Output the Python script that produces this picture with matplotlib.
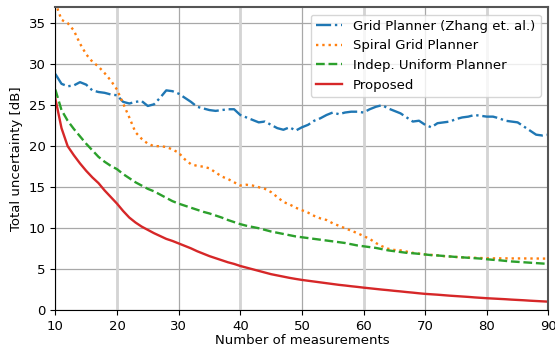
import matplotlib
matplotlib.use("Agg")
import matplotlib.pyplot as plt
import numpy as np

measurements = np.arange(10, 91)

grid_planner = [
    28.8, 27.6, 27.3, 27.4, 27.8, 27.5, 26.8, 26.6, 26.5, 26.3,
    26.2, 25.4, 25.2, 25.4, 25.5, 24.9, 25.1, 25.9, 26.8, 26.7,
    26.4, 25.9, 25.4, 24.8, 24.6, 24.4, 24.3, 24.4, 24.5, 24.5,
    23.8, 23.5, 23.2, 22.9, 23.0, 22.6, 22.2, 22.0, 22.3, 21.9,
    22.3, 22.6, 23.1, 23.4, 23.8, 24.1, 23.9, 24.1, 24.2, 24.2,
    24.1, 24.5, 24.8, 25.0, 24.6, 24.3, 24.0, 23.5, 23.0, 23.1,
    22.6, 22.3, 22.8, 22.9, 23.0, 23.3, 23.5, 23.6, 23.8, 23.7,
    23.6, 23.6, 23.4, 23.1, 23.0, 22.9, 22.4, 21.9, 21.4, 21.3,
    21.4,
]

spiral_grid = [
    37.5, 35.4, 35.0, 34.1, 32.5, 31.2, 30.3, 29.7, 28.9, 28.0,
    26.9, 25.2, 23.5, 21.7, 20.9, 20.3, 20.0, 20.0, 19.9, 19.6,
    19.2, 18.4, 17.8, 17.6, 17.5, 17.3, 16.8, 16.3, 16.0, 15.6,
    15.2, 15.3, 15.2, 15.0, 14.8, 14.4, 13.8, 13.2, 12.9, 12.5,
    12.2, 11.9, 11.5, 11.2, 11.0, 10.6, 10.3, 10.0, 9.7, 9.4,
    9.05, 8.7, 8.2, 7.8, 7.5, 7.35, 7.3, 7.15, 7.0, 6.9,
    6.8, 6.75, 6.7, 6.6, 6.55, 6.5, 6.45, 6.42, 6.4, 6.37,
    6.34, 6.33, 6.33, 6.33, 6.32, 6.32, 6.32, 6.31, 6.31, 6.3,
    6.3,
]

indep_uniform = [
    26.9, 24.4, 23.1, 22.1, 21.2, 20.3, 19.5, 18.7, 18.1, 17.6,
    17.2, 16.6, 16.1, 15.6, 15.2, 14.8, 14.5, 14.1, 13.7, 13.3,
    13.0, 12.75, 12.5, 12.25, 12.0, 11.8, 11.55, 11.3, 11.0, 10.75,
    10.5, 10.3, 10.15, 10.0, 9.8, 9.6, 9.45, 9.3, 9.15, 9.0,
    8.9, 8.8, 8.7, 8.6, 8.5, 8.4, 8.3, 8.2, 8.05, 7.9,
    7.8, 7.7, 7.6, 7.45, 7.3, 7.2, 7.1, 7.0, 6.95, 6.88,
    6.8, 6.72, 6.68, 6.62, 6.56, 6.5, 6.45, 6.4, 6.35, 6.3,
    6.22, 6.15, 6.1, 6.02, 5.95, 5.9, 5.85, 5.8, 5.75, 5.7,
    5.65,
]

proposed = [
    25.8, 22.2, 20.0, 18.9, 17.9, 17.0, 16.2, 15.5, 14.6, 13.8,
    13.0, 12.1, 11.3, 10.7, 10.2, 9.8, 9.4, 9.05, 8.7, 8.45,
    8.15, 7.85, 7.55, 7.2, 6.9, 6.6, 6.35, 6.1, 5.85, 5.65,
    5.4, 5.2, 5.0, 4.8, 4.6, 4.4, 4.25, 4.1, 3.95, 3.82,
    3.7, 3.6, 3.5, 3.4, 3.3, 3.2, 3.1, 3.02, 2.93, 2.85,
    2.76, 2.68, 2.6, 2.52, 2.45, 2.37, 2.3, 2.22, 2.15, 2.07,
    2.0, 1.95, 1.9, 1.84, 1.78, 1.73, 1.68, 1.63, 1.57, 1.52,
    1.47, 1.43, 1.39, 1.35, 1.3, 1.26, 1.22, 1.17, 1.13, 1.09,
    1.05,
]

labels = ["Grid Planner (Zhang et. al.)", "Spiral Grid Planner",
          "Indep. Uniform Planner", "Proposed"]

fig = plt.figure(figsize=(5.55, 3.51), dpi=100)
ax = fig.add_axes([0.0997, 0.116, 0.8885, 0.865])

# grid: darker thin lines everywhere, lighter wide ones on every second x tick
ax.grid(True, color="#a8a8a8", linewidth=0.9)
for xv in (20, 40, 60, 80):
    ax.axvline(xv, color="#d4d4d4", linewidth=2.0, zorder=1.7)

ax.plot(measurements, grid_planner, color="#1f77b4", linestyle="-.", linewidth=1.7, label=labels[0])
ax.plot(measurements, spiral_grid, color="#ff7f0e", linestyle=":", linewidth=1.7, label=labels[1])
ax.plot(measurements, indep_uniform, color="#2ca02c", linestyle="--", linewidth=1.7, label=labels[2])
ax.plot(measurements, proposed, color="#d62728", linestyle="-", linewidth=1.7, label=labels[3])

ax.set_xlim(10, 90)
ax.set_ylim(0, 37)
ax.set_xticks(np.arange(10, 91, 10))
ax.set_yticks(np.arange(0, 36, 5))
ax.tick_params(labelsize=9.5)
ax.set_xlabel("Number of measurements", fontsize=9.5, labelpad=1)
ax.set_ylabel("Total uncertainty [dB]", fontsize=9.5, labelpad=4)

ax.spines["left"].set_color("black")
ax.spines["bottom"].set_color("black")
ax.spines["top"].set_color("#555555")
ax.spines["right"].set_color("#555555")
for s in ("top", "right"):
    ax.spines[s].set_linewidth(1.5)

ax.legend(loc="upper right", fontsize=9.5, framealpha=0.8, borderaxespad=0.6)

fig.savefig("out.png", dpi=100)
